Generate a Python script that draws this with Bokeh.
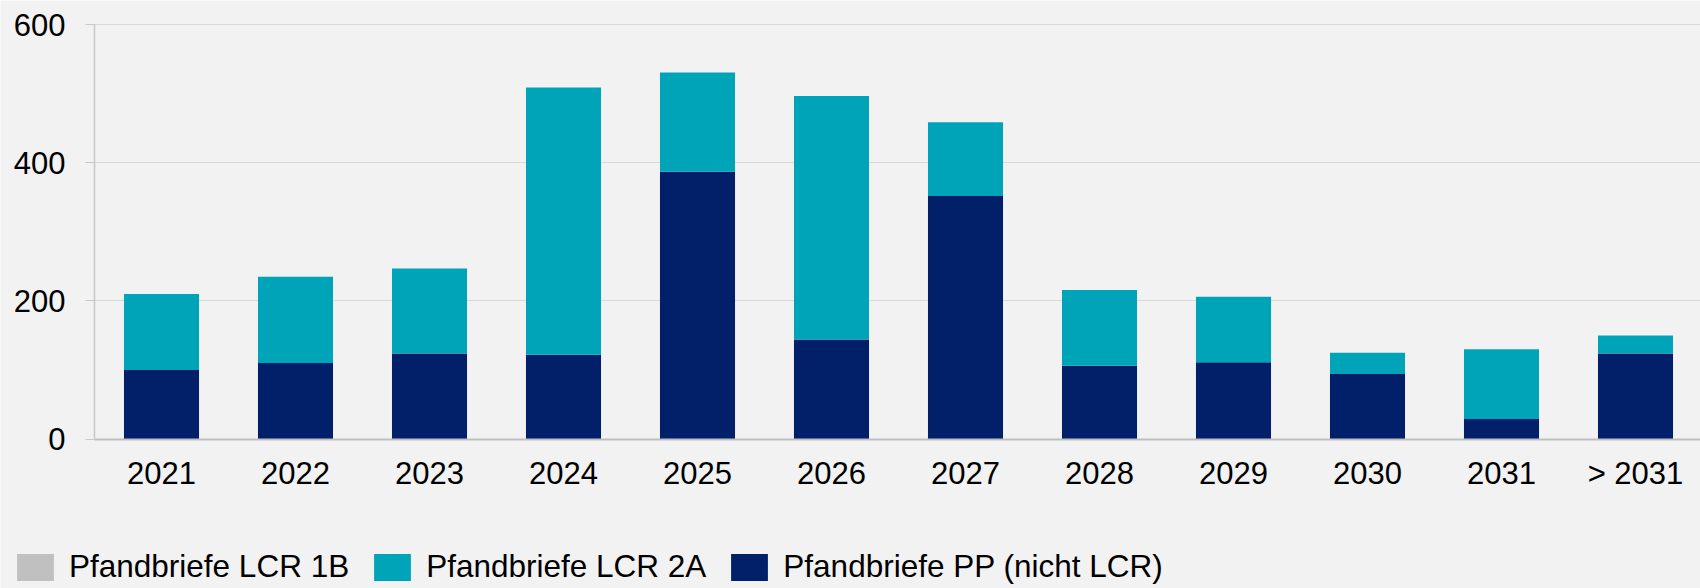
from bokeh.plotting import figure
from bokeh.models import (Range1d, FixedTicker, Legend, LegendItem, ColumnDataSource,
                          LinearAxis, Grid)
from bokeh.embed import file_html
from bokeh.resources import INLINE

# ---- data ----
years = ["2021", "2022", "2023", "2024", "2025", "2026", "2027", "2028", "2029", "2030", "2031", "> 2031"]
pp_nicht_lcr = [100, 110, 124, 122, 387, 144, 352, 106, 111, 94, 29, 124]
lcr_2a = [110, 125, 123, 387, 144, 353, 107, 110, 95, 31, 101, 26]
lcr_1b = [0, 0, 0, 0, 0, 0, 0, 0, 0, 0, 0, 0]
y_ticks = [0, 200, 400, 600]

FONT = "Liberation Sans"
BG = "#F2F2F2"
NAVY = "#021F69"
TEAL = "#00A4B9"
GREY = "#C0C0C0"

xpos = [i + 0.5 for i in range(len(years))]
src = ColumnDataSource(dict(x=xpos, pp=pp_nicht_lcr, a2=lcr_2a, b1=lcr_1b))

W, H = 1700, 588
# pixel geometry of the plotting area
X0_PX, CAT_PX = 94.0, 134.0          # x=0 at pixel 94, one category = 134 px
Y0_PX, Y600_PX = 438.5, 24.3          # y=0 and y=600 pixel rows
ppu = (Y0_PX - Y600_PX) / 600.0

x_start = -X0_PX / CAT_PX
x_end = (W - X0_PX) / CAT_PX
y_end = 600 + Y600_PX / ppu
y_start = -(H - Y0_PX) / ppu

p = figure(width=W, height=H, output_backend="svg", toolbar_location=None,
           x_range=Range1d(x_start, x_end), y_range=Range1d(y_start, y_end),
           min_border=0, x_axis_location=None, y_axis_location=None)
p.background_fill_color = BG
p.border_fill_color = BG
p.outline_line_color = None
for g in p.select({"type": Grid}):
    g.visible = False

rs = p.vbar_stack(["pp", "a2", "b1"], x="x", width=0.56, source=src,
                  color=[NAVY, TEAL, GREY], line_color=None)

xaxis = LinearAxis(fixed_location=0, bounds=(0, len(years)))
xaxis.ticker = FixedTicker(ticks=xpos)
xaxis.major_label_overrides = {x: y for x, y in zip(xpos, years)}
xaxis.major_tick_line_color = None
xaxis.minor_tick_line_color = None
xaxis.axis_line_color = "#BFBFBF"
xaxis.axis_line_width = 2
xaxis.major_label_standoff = 11
xaxis.major_label_text_font = FONT
xaxis.major_label_text_font_size = "31px"
xaxis.major_label_text_color = "black"
p.add_layout(xaxis, "below")

yaxis = LinearAxis(fixed_location=0, bounds=(0, 600))
yaxis.ticker = FixedTicker(ticks=y_ticks)
yaxis.minor_tick_line_color = None
yaxis.major_tick_in = 0
yaxis.major_tick_out = 9
yaxis.major_tick_line_color = "#C8C8C8"
yaxis.axis_line_color = "#C8C8C8"
yaxis.axis_line_width = 1.5
yaxis.major_label_standoff = 20
yaxis.major_label_text_font = FONT
yaxis.major_label_text_font_size = "31px"
yaxis.major_label_text_color = "black"
p.add_layout(yaxis, "left")

ygrid = Grid(dimension=1, ticker=yaxis.ticker, grid_line_color="#D9D9D9", grid_line_width=1)
if "cross_bounds" in ygrid.properties():
    ygrid.cross_bounds = (0, x_end)
p.add_layout(ygrid)

legend = Legend(items=[
    LegendItem(label="Pfandbriefe LCR 1B", renderers=[rs[2]]),
    LegendItem(label="Pfandbriefe LCR 2A", renderers=[rs[1]]),
    LegendItem(label="Pfandbriefe PP (nicht LCR)", renderers=[rs[0]]),
], orientation="horizontal", location=(12, 3), padding=0, margin=0,
    border_line_color=None, background_fill_alpha=0,
    glyph_width=46, glyph_height=34, label_standoff=11, spacing=20,
    label_text_font=FONT, label_text_font_size="31.5px", label_text_color="black")
p.add_layout(legend, "center")

open("out.html", "w").write(file_html(p, INLINE))
